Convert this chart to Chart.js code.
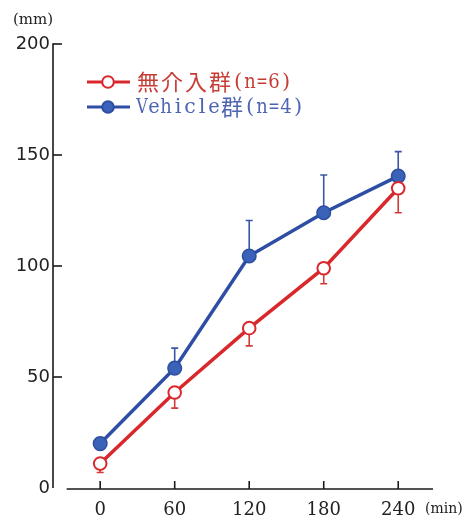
<!DOCTYPE html>
<html>
<head>
<meta charset="utf-8">
<script src="https://cdn.jsdelivr.net/npm/chart.js@4.4.0/dist/chart.umd.min.js"></script>
<style>
  html, body { margin: 0; padding: 0; background: #fff; }
  #wrap { width: 472px; height: 519px; position: relative; }
</style>
</head>
<body>
<div id="wrap"><canvas id="grafik" width="472" height="519"></canvas></div>
<script>
// veriler
var zamanlar = [0, 60, 120, 180, 240];
var yTikler = [0, 50, 100, 150, 200];
var seriAdlari = ["無介入群(n=6)", "Vehicle群(n=4)"];
var mudahalesiz = [11, 43, 72, 99, 135];
var mudahalesizHata = [4, 7, 8, 7, 11];   // asagi dogru
var vehicle = [20, 54, 104.5, 124, 140.5];
var vehicleHata = [0, 9, 16, 17, 11];     // yukari dogru

var kirmizi = "#d9282c";
var mavi = "#2e4ea5";

function noktalar(degerler) {
  var sonuc = [];
  for (var i = 0; i < zamanlar.length; i++) {
    sonuc.push({ x: zamanlar[i], y: degerler[i] });
  }
  return sonuc;
}

// lejant yazisi: CJK harfleri genis, digerleri es aralikli (serifli)
function lejantYazisi(ctx, metin, x, y) {
  ctx.textAlign = "center";
  for (var i = 0; i < metin.length; i++) {
    var h = metin[i];
    if (h.charCodeAt(0) > 0x2e80) {
      ctx.font = "22px 'Noto Sans CJK JP', sans-serif";
      ctx.fillText(h, x + 12, y);
      x += 24;
    } else {
      ctx.font = "21px 'DejaVu Serif', serif";
      ctx.fillText(h, x + 6, y + 1, 11.5);
      x += 12;
    }
  }
}

/* hata cubuklari, eksenler ve lejant */
var ciziciEklenti = {
  id: "cizici",
  beforeDatasetsDraw: function (chart) {
    var ctx = chart.ctx;
    var xs = chart.scales.x, ys = chart.scales.y;
    var setler = [
      { deg: mudahalesiz, hata: mudahalesizHata, yon: -1, renk: "#d23a3a" },
      { deg: vehicle, hata: vehicleHata, yon: 1, renk: "#3b55a8" }
    ];
    ctx.save();
    ctx.lineWidth = 1.6;
    setler.forEach(function (s) {
      ctx.strokeStyle = s.renk;
      for (var i = 0; i < zamanlar.length; i++) {
        if (!s.hata[i]) continue;
        var px = xs.getPixelForValue(zamanlar[i]);
        var p0 = ys.getPixelForValue(s.deg[i]);
        var p1 = ys.getPixelForValue(s.deg[i] + s.yon * s.hata[i]);
        ctx.beginPath();
        ctx.moveTo(px, p0);
        ctx.lineTo(px, p1);
        ctx.moveTo(px - 3.5, p1);
        ctx.lineTo(px + 3.5, p1);
        ctx.stroke();
      }
    });
    ctx.restore();
  },
  afterDraw: function (chart) {
    var ctx = chart.ctx;
    var xs = chart.scales.x, ys = chart.scales.y;
    var alan = chart.chartArea;
    ctx.save();
    ctx.strokeStyle = "#1a1a1a";
    ctx.lineWidth = 1.6;

    // y ekseni
    var solX = alan.left;
    ctx.beginPath();
    ctx.moveTo(solX, ys.getPixelForValue(0));
    ctx.lineTo(solX, ys.getPixelForValue(200) - 0.8);
    ctx.stroke();
    yTikler.forEach(function (t) {
      if (t === 0) return;
      var py = ys.getPixelForValue(t);
      ctx.beginPath();
      ctx.moveTo(solX, py);
      ctx.lineTo(solX + 9, py);
      ctx.stroke();
    });

    // x ekseni
    var altY = ys.getPixelForValue(0) + 1;
    ctx.beginPath();
    ctx.moveTo(xs.getPixelForValue(-27), altY);
    ctx.lineTo(alan.right, altY);
    ctx.stroke();
    zamanlar.forEach(function (t) {
      var px = xs.getPixelForValue(t);
      ctx.beginPath();
      ctx.moveTo(px, altY);
      ctx.lineTo(px, altY - 8);
      ctx.stroke();
    });

    // birimler
    ctx.fillStyle = "#222";
    ctx.font = "15px 'DejaVu Serif', serif";
    ctx.textBaseline = "middle";
    ctx.textAlign = "left";
    ctx.fillText("(mm)", 13, 20);
    ctx.font = "14px 'DejaVu Serif', serif";
    ctx.fillText("(min)", 425, 509);

    // lejant
    var lejant = [
      { ad: seriAdlari[0], renk: kirmizi, yazi: "#c63d36", dolgu: "#ffffff", y: 82 },
      { ad: seriAdlari[1], renk: mavi, yazi: "#4e66b2", dolgu: "#3a62b8", y: 107 }
    ];
    lejant.forEach(function (l) {
      ctx.strokeStyle = l.renk;
      ctx.lineWidth = 3.2;
      ctx.beginPath();
      ctx.moveTo(87, l.y);
      ctx.lineTo(130, l.y);
      ctx.stroke();
      ctx.beginPath();
      ctx.arc(108, l.y, 5.8, 0, Math.PI * 2);
      ctx.fillStyle = l.dolgu;
      ctx.fill();
      ctx.lineWidth = 2;
      ctx.stroke();
      ctx.fillStyle = l.yazi;
      ctx.textBaseline = "middle";
      lejantYazisi(ctx, l.ad, 136, l.y);
    });
    ctx.restore();
  }
};

var ctx = document.getElementById("grafik");
var grafik = new Chart(ctx, {
  type: "line",
  data: {
    datasets: [{
      label: seriAdlari[0],
      data: noktalar(mudahalesiz),
      borderColor: kirmizi,
      backgroundColor: "#ffffff",
      borderWidth: 3.5,
      pointRadius: 6.3,
      pointBorderWidth: 2,
      pointBorderColor: kirmizi,
      pointBackgroundColor: "#ffffff"
    }, {
      label: seriAdlari[1],
      data: noktalar(vehicle),
      borderColor: mavi,
      backgroundColor: "#3a62b8",
      borderWidth: 3.5,
      pointRadius: 6.8,
      pointBorderWidth: 1.5,
      pointBorderColor: "#2d4f9f",
      pointBackgroundColor: "#3a62b8"
    }]
  },
  options: {
    responsive: false,
    animation: false,
    devicePixelRatio: 1,
    layout: { padding: { top: 44, right: 39, left: 0, bottom: 0 } },
    plugins: { legend: { display: false }, tooltip: { enabled: false } },
    scales: {
      x: {
        type: "linear",
        min: -38,
        max: 268,
        afterFit: function (s) { s.height = 31; },
        afterBuildTicks: function (s) {
          s.ticks = zamanlar.map(function (v) { return { value: v }; });
        },
        grid: { display: false, drawTicks: false },
        border: { display: false },
        ticks: {
          padding: 12,
          color: "#222",
          font: { family: "'DejaVu Serif', serif", size: 18 }
        }
      },
      y: {
        min: 0,
        max: 200,
        afterFit: function (s) { s.width = 53; },
        afterBuildTicks: function (s) {
          s.ticks = yTikler.map(function (v) { return { value: v }; });
        },
        grid: { display: false, drawTicks: false },
        border: { display: false },
        ticks: {
          padding: 3,
          color: "#222",
          font: { family: "'DejaVu Sans', sans-serif", size: 18 }
        }
      }
    }
  },
  plugins: [ciziciEklenti]
});
</script>
</body>
</html>
